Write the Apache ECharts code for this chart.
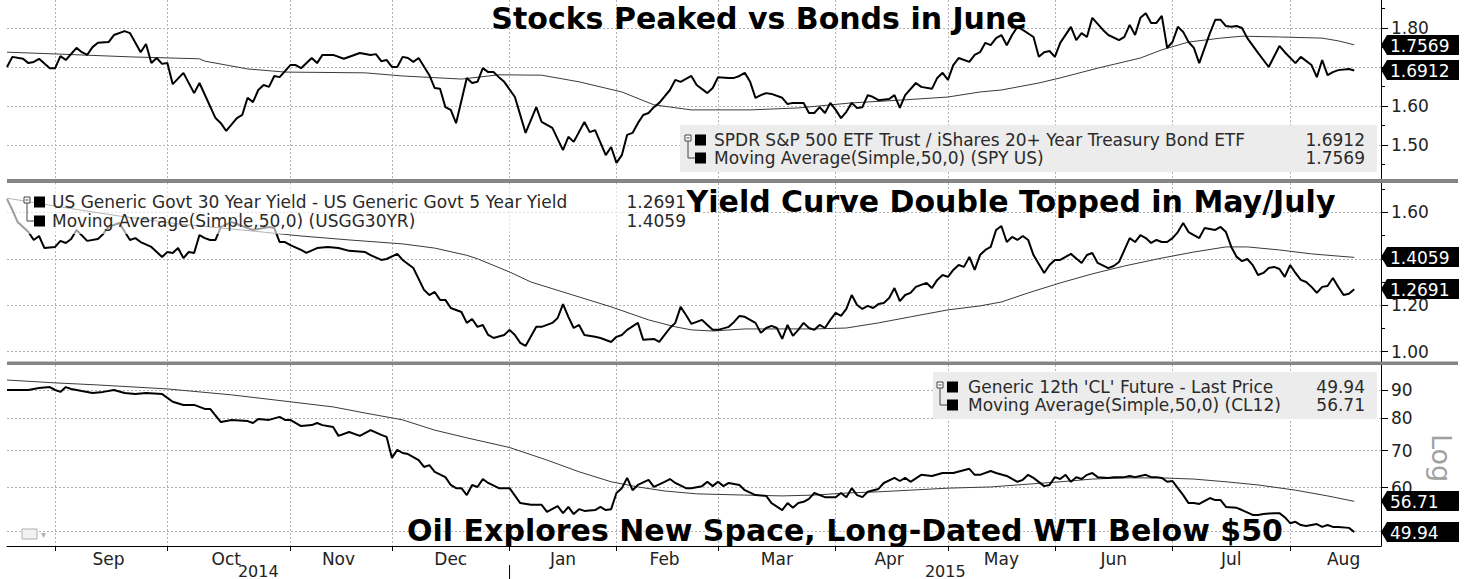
<!DOCTYPE html>
<html><head><meta charset="utf-8">
<script src="https://cdn.jsdelivr.net/npm/echarts@6/dist/echarts.min.js"></script>
<style>html,body{margin:0;padding:0;background:#fff}#c{width:1465px;height:579px}</style>
</head><body><div id="c"></div>
<script>
// ---------- calendar (trading days) ----------
const START_DATE = '2014-08-19';
const END_CALENDAR = '2015-08-31';
const HOLIDAYS = ['2014-09-01','2014-11-27','2014-12-25','2015-01-01','2015-01-19','2015-02-16','2015-04-03','2015-05-25','2015-07-03'];
const N_CATEGORIES = 258;
const MONTH_NAMES = ['Jan','Feb','Mar','Apr','May','Jun','Jul','Aug','Sep','Oct','Nov','Dec'];

// ---------- panel 1: SPY / TLT ratio (x = trading day since 2014-08-19) ----------
const ratioDays = [0,1,3,4,5,6,8,9,10,11,13,14,15,16,17,19,20,22,23,25,26,27,28,29,30,31,33,35,36,39,40,41,43,44,45,46,47,48,49,50,51,53,54,55,57,58,59,61,63,66,68,69,70,71,72,73,74,75,76,77,79,80,81,82,83,84,86,87,88,89,90,91,92,93,95,97,99,100,102,104,105,106,108,109,110,112,113,114,115,116,117,118,119,120,121,122,124,125,126,128,129,131,132,133,135,136,137,138,139,140,141,142,143,145,146,147,149,150,151,152,153,154,155,156,157,158,159,160,161,162,163,165,166,167,168,170,171,173,174,175,176,177,178,180,181,182,183,184,185,186,187,188,189,190,192,193,194,195,196,197,199,200,201,202,203,205,206,208,209,210,211,212,213,214,215,216,217,218,219,220,221,222,223,225,226,227,228,229,230,231,232,234,236,238,239,241,242,244,245,246,247,248,249,251,252];
const ratioValues = [1.700,1.726,1.721,1.710,1.713,1.721,1.697,1.697,1.728,1.718,1.749,1.738,1.731,1.751,1.762,1.764,1.782,1.792,1.787,1.738,1.759,1.710,1.723,1.708,1.710,1.656,1.685,1.633,1.659,1.569,1.556,1.536,1.569,1.577,1.621,1.610,1.641,1.654,1.649,1.677,1.674,1.705,1.705,1.697,1.723,1.710,1.731,1.731,1.721,1.736,1.731,1.733,1.715,1.718,1.700,1.700,1.726,1.723,1.713,1.723,1.679,1.646,1.644,1.597,1.590,1.556,1.672,1.659,1.662,1.697,1.687,1.687,1.674,1.662,1.623,1.531,1.597,1.559,1.544,1.487,1.521,1.508,1.559,1.533,1.538,1.474,1.495,1.454,1.474,1.526,1.531,1.556,1.577,1.582,1.597,1.608,1.641,1.667,1.662,1.677,1.654,1.633,1.646,1.674,1.672,1.672,1.677,1.685,1.662,1.621,1.628,1.633,1.631,1.621,1.605,1.608,1.608,1.582,1.582,1.597,1.582,1.608,1.590,1.569,1.585,1.608,1.595,1.597,1.628,1.623,1.615,1.618,1.628,1.595,1.628,1.659,1.649,1.644,1.672,1.685,1.667,1.705,1.723,1.713,1.731,1.738,1.762,1.756,1.774,1.782,1.756,1.782,1.803,1.795,1.777,1.726,1.738,1.741,1.726,1.762,1.803,1.769,1.787,1.777,1.826,1.795,1.782,1.769,1.777,1.808,1.782,1.826,1.838,1.813,1.813,1.831,1.749,1.764,1.803,1.790,1.764,1.749,1.710,1.787,1.821,1.821,1.805,1.803,1.805,1.800,1.774,1.736,1.700,1.754,1.738,1.710,1.726,1.705,1.674,1.718,1.679,1.687,1.692,1.695,1.6912];
const ratioMaDays = [0,10,23,36,37,45,52,67,74,85,92,100,107,115,121,128,139,148,158,167,176,182,186,193,197,204,212,216,221,227,231,238,246,249,252];
const ratioMaValues = [1.738,1.733,1.726,1.721,1.715,1.695,1.687,1.685,1.677,1.669,1.680,1.679,1.662,1.636,1.603,1.590,1.590,1.595,1.608,1.615,1.623,1.636,1.641,1.659,1.672,1.697,1.723,1.744,1.764,1.774,1.779,1.777,1.774,1.767,1.7569];
const ratioTicks = [1.5,1.6,1.7,1.8];
const ratioLabels = [1.5,1.6,1.8];
const ratioMinorTicks = [1.45,1.55,1.65,1.75,1.85];

// ---------- panel 2: 30y - 5y yield curve ----------
const curveDays = [0,1,2,4,5,6,7,9,10,11,12,13,15,17,18,19,21,23,24,25,27,29,30,31,32,33,34,35,36,37,38,39,40,42,44,46,49,50,51,52,53,55,56,58,60,62,64,67,68,70,71,73,74,76,78,79,80,81,82,83,85,86,87,88,89,90,91,93,94,95,96,97,99,100,102,103,104,105,106,107,108,110,111,113,114,115,116,118,119,121,122,123,124,125,126,127,128,130,131,132,133,135,136,137,138,140,141,142,143,144,145,146,147,148,149,150,151,152,153,154,155,156,157,158,159,160,161,162,163,164,165,166,167,168,169,170,172,173,174,175,176,177,178,179,180,181,182,183,184,185,186,187,188,189,190,191,192,194,195,196,197,198,199,201,202,203,204,206,207,208,210,211,212,213,214,215,216,217,218,219,220,221,223,224,225,226,227,228,229,230,231,232,233,234,235,236,237,238,239,240,241,242,243,244,245,246,247,248,249,250,251,252];
const curveValues = [1.657,1.610,1.558,1.515,1.481,1.498,1.446,1.451,1.477,1.468,1.485,1.524,1.477,1.485,1.507,1.537,1.554,1.481,1.489,1.472,1.451,1.408,1.429,1.425,1.446,1.403,1.429,1.425,1.502,1.489,1.481,1.481,1.537,1.558,1.541,1.524,1.537,1.532,1.472,1.472,1.459,1.438,1.425,1.446,1.451,1.446,1.434,1.429,1.416,1.395,1.399,1.421,1.395,1.360,1.266,1.244,1.257,1.223,1.223,1.188,1.171,1.124,1.141,1.107,1.115,1.072,1.059,1.072,1.094,1.072,1.038,1.025,1.107,1.107,1.124,1.145,1.205,1.150,1.102,1.115,1.072,1.064,1.059,1.042,1.064,1.072,1.094,1.124,1.051,1.055,1.042,1.072,1.102,1.124,1.193,1.158,1.120,1.137,1.115,1.094,1.094,1.107,1.128,1.154,1.150,1.124,1.081,1.102,1.111,1.102,1.055,1.115,1.068,1.094,1.124,1.102,1.094,1.115,1.102,1.137,1.167,1.154,1.184,1.244,1.201,1.184,1.197,1.188,1.205,1.210,1.231,1.274,1.218,1.244,1.253,1.279,1.296,1.274,1.309,1.330,1.322,1.352,1.373,1.365,1.408,1.352,1.416,1.438,1.451,1.524,1.541,1.472,1.494,1.481,1.498,1.481,1.416,1.339,1.373,1.395,1.395,1.408,1.421,1.382,1.416,1.425,1.382,1.360,1.369,1.386,1.489,1.472,1.502,1.489,1.468,1.481,1.472,1.472,1.489,1.515,1.554,1.515,1.489,1.532,1.528,1.524,1.537,1.515,1.451,1.408,1.390,1.399,1.373,1.330,1.339,1.360,1.365,1.356,1.322,1.373,1.339,1.309,1.300,1.279,1.253,1.279,1.283,1.317,1.279,1.244,1.249,1.2691];
const curveMaDays = [0,10,21,32,44,55,64,74,80,86,88,94,98,104,113,120,125,128,132,138,145,151,157,163,169,176,182,186,191,197,203,209,216,222,228,232,238,244,252];
const curveMaValues = [1.661,1.623,1.584,1.550,1.524,1.498,1.481,1.464,1.446,1.415,1.400,1.343,1.300,1.257,1.193,1.137,1.107,1.094,1.089,1.098,1.098,1.098,1.102,1.124,1.150,1.180,1.197,1.214,1.253,1.296,1.335,1.369,1.403,1.429,1.451,1.451,1.438,1.421,1.4059];
const curveTicks = [1.0,1.2,1.4,1.6];
const curveLabels = [1.0,1.2,1.6];
const curveMinorTicks = [1.1,1.3,1.5,1.7];

// ---------- panel 3: generic 12th CL future (log scale) ----------
const oilDays = [0,4,6,8,9,10,11,12,14,16,18,20,22,24,26,29,30,31,33,35,37,38,40,42,45,46,47,49,51,52,53,55,57,58,59,61,62,64,66,68,70,71,72,73,74,75,77,78,79,80,82,83,84,85,86,87,88,89,90,92,94,96,98,100,101,103,104,105,106,107,108,110,111,112,113,114,115,116,117,118,120,121,123,124,125,127,128,130,131,132,133,134,135,137,138,140,142,143,145,146,147,148,149,150,151,153,154,155,156,157,158,159,160,161,163,164,166,167,168,169,171,173,175,177,180,181,182,184,185,187,189,190,191,192,194,195,196,197,198,199,200,201,202,203,204,206,207,209,210,211,213,214,215,216,217,218,219,220,221,222,223,225,226,227,228,230,231,233,234,235,237,238,239,240,241,242,243,245,246,247,248,249,251,252];
const oilValues = [90.0,90.0,90.75,91.1,90.0,89.3,91.1,90.4,89.6,88.9,89.3,90.0,88.9,88.5,88.9,88.5,87.1,85.7,84.6,84.6,83.2,83.2,78.8,79.5,79.1,78.5,79.8,79.5,80.5,79.5,79.5,77.5,77.8,78.5,77.8,77.2,74.4,75.6,74.4,76.2,74.7,74.1,67.9,70.2,69.3,69.0,67.3,65.4,65.9,64.1,62.7,60.7,59.9,59.9,58.2,60.7,60.2,62.2,61.2,59.9,59.9,56.3,55.9,55.9,54.3,55.6,54.0,55.4,53.8,54.9,54.5,54.7,55.4,54.7,54.9,58.7,59.9,62.5,59.4,60.7,62.0,60.2,61.5,62.2,61.2,59.9,59.9,60.4,61.5,60.4,61.5,60.4,61.2,60.7,59.4,58.2,58.0,56.3,54.7,56.3,55.2,56.3,56.6,57.3,58.7,57.7,57.7,57.7,58.7,57.7,59.9,58.2,57.7,59.0,59.7,61.2,62.5,61.7,62.5,61.5,63.3,63.0,63.8,63.8,64.9,63.3,63.3,64.3,63.8,63.0,61.5,62.0,63.3,62.5,60.4,60.7,62.7,62.2,63.3,61.5,62.7,62.2,63.3,63.8,62.7,62.5,62.7,62.7,63.0,62.7,63.3,62.7,62.7,62.5,61.5,61.7,59.9,58.2,56.3,56.3,56.1,57.5,57.0,57.0,55.4,55.2,54.7,53.6,53.6,53.8,54.0,54.0,53.1,51.8,52.1,51.4,51.2,51.6,51.0,51.4,51.0,51.0,50.8,49.94];
const oilMaDays = [0,9,17,30,42,53,61,67,74,80,86,94,101,107,113,118,123,129,138,145,151,157,163,169,176,184,191,197,203,209,216,222,228,234,241,247,252];
const oilMaValues = [93.8,92.7,91.9,90.4,88.2,85.7,83.9,81.8,79.5,76.2,73.8,70.9,67.3,64.1,61.5,60.2,59.2,58.5,58.2,58.0,58.2,58.7,59.0,59.4,59.9,60.2,60.9,61.5,62.2,62.5,62.5,62.2,61.5,60.7,59.4,58.0,56.71];
const oilTicks = [50,60,70,80,90];
const oilLabels = [60,70,80,90];

// ---------- texts ----------
const titles = ['Stocks Peaked vs Bonds in June','Yield Curve Double Topped in May/July','Oil Explores New Space, Long-Dated WTI Below $50'];
const legend1 = ['SPDR S&P 500 ETF Trust / iShares 20+ Year Treasury Bond ETF','Moving Average(Simple,50,0) (SPY US)'];
const legend2 = ['US Generic Govt 30 Year Yield - US Generic Govt 5 Year Yield','Moving Average(Simple,50,0) (USGG30YR)'];
const legend3 = ["Generic 12th 'CL' Future - Last Price",'Moving Average(Simple,50,0) (CL12)'];
const lastValues = {ratio:1.6912, ratioMa:1.7569, curve:1.2691, curveMa:1.4059, oil:49.94, oilMa:56.71};

// ---------- build calendar ----------
const allDays = [];
(function(){
  const d = new Date(START_DATE + 'T00:00:00Z');
  while (true) {
    const s = d.toISOString().slice(0,10);
    const wd = d.getUTCDay();
    if (wd !== 0 && wd !== 6 && HOLIDAYS.indexOf(s) < 0) allDays.push(s);
    if (s === END_CALENDAR) break;
    d.setUTCDate(d.getUTCDate() + 1);
  }
})();
const categories = allDays.slice(0, N_CATEGORIES);
const monthStart = new Set(); const labelIdx = new Set();
(function(){
  let s = 0;
  for (let i = 1; i <= allDays.length; i++) {
    if (i === allDays.length || allDays[i].slice(0,7) !== allDays[i-1].slice(0,7)) {
      if (s > 0) { monthStart.add(s); labelIdx.add(Math.ceil((s + i - 1) / 2)); }
      s = i;
    }
  }
})();

const FONT = '"DejaVu Sans"';
const GRID_C = '#b3b3b3';
const pairs = (d, v) => d.map((x, i) => [x, v[i]]);

const P1 = {min: 1.80 - 151/390, max: 1.80 + 28/390};
const P2 = {min: 1.0 - 10.3/232.33, max: 1.60 + 29.3/232.33};
const P3 = {min: 90*Math.exp(-156/241.07), max: 90*Math.exp(25/241.07)};

function xAx(gi, show){
  return {type:'category', gridIndex:gi, data:categories, boundaryGap:false,
    axisLine:{show:show, lineStyle:{color:'#000', width:1}},
    axisTick:{show:show, interval:(i)=>monthStart.has(i), length:5, lineStyle:{color:'#000'}},
    axisLabel:{show:show, interval:(i)=>labelIdx.has(i), formatter:(v)=>MONTH_NAMES[+v.slice(5,7)-1], color:'#222', fontSize:17, fontFamily:FONT, margin:4},
    splitLine:{show:true, interval:(i)=>monthStart.has(i), lineStyle:{color:GRID_C, type:[2,2], width:1}}};
}
function yMajor(gi, ext, ticks, labels, fmt, type){
  return {type:type||'value', gridIndex:gi, position:'right', min:ext.min, max:ext.max, scale:true,
    axisLine:{show:true, onZero:false, lineStyle:{color:'#000', width:1}},
    axisTick:{show:true, customValues:ticks, length:7, lineStyle:{color:'#000'}},
    axisLabel:{show:true, customValues:labels, formatter:fmt, color:'#222', fontSize:17, fontFamily:FONT, margin:10},
    splitLine:{show:true, lineStyle:{color:GRID_C, type:[2,2], width:1}}};
}
function yMinor(gi, ext, ticks){
  return {type:'value', gridIndex:gi, position:'right', min:ext.min, max:ext.max, scale:true,
    axisLine:{show:false}, axisTick:{show:true, customValues:ticks, length:4, lineStyle:{color:'#000'}},
    axisLabel:{show:false}, splitLine:{show:false}};
}
function lineS(xi, yi, data, main){
  return {type:'line', xAxisIndex:xi, yAxisIndex:yi, data:data, showSymbol:false, symbol:'none',
    lineStyle:{color: main ? '#000' : '#3a3a3a', width: main ? 2 : 1}, z: main ? 4 : 3, silent:true};
}

const chart = echarts.init(document.getElementById('c'), null, {renderer:'svg', width:1465, height:579});
const option = {
  animation:false, backgroundColor:'#fff',
  grid:[
    {left:7, right:84, top:0, height:179},
    {left:7, right:84, top:183, height:179},
    {left:7, right:84, top:365, height:181}
  ],
  xAxis:[xAx(0,false), xAx(1,false), xAx(2,true)],
  yAxis:[
    yMajor(0, P1, ratioTicks, ratioLabels, (v)=>v.toFixed(2)),
    yMinor(0, P1, ratioMinorTicks),
    yMajor(1, P2, curveTicks, curveLabels, (v)=>v.toFixed(2)),
    yMinor(1, P2, curveMinorTicks),
    yMajor(2, P3, oilTicks, oilLabels, (v)=>String(Math.round(v)), 'log')
  ],
  series:[
    lineS(0,0,pairs(ratioMaDays, ratioMaValues), false),
    lineS(0,0,pairs(ratioDays, ratioValues), true),
    lineS(1,2,pairs(curveMaDays, curveMaValues), false),
    lineS(1,2,pairs(curveDays, curveValues), true),
    lineS(2,4,pairs(oilMaDays, oilMaValues), false),
    lineS(2,4,pairs(oilDays, oilValues), true)
  ]
};
chart.setOption(option);

// ---------- annotations placed through the chart's own scales ----------
const yPix = (ai, v) => chart.convertToPixel({yAxisIndex:ai}, v);
const xPix = (i) => chart.convertToPixel({xAxisIndex:2}, i);
const AXIS_X = xPix(N_CATEGORIES - 1);
const G = [];
function txt(text, x, y, o){
  o = o || {};
  const al = o.align || 'left', va = o.valign || 'middle';
  const el = {type:'text', z:o.z||60, x:x, y:y, silent:true,
    style:{text:text, font:(o.weight||'normal')+' '+(o.size||18)+'px '+(o.family||FONT), fill:o.fill||'#222',
      textAlign:al, textVerticalAlign:va, align:al, verticalAlign:va}};
  if (o.rotation) el.rotation = o.rotation;
  G.push(el);
}
function rect(x, y, w, h, fill, z, stroke){
  G.push({type:'rect', z:z||50, silent:true, shape:{x:x, y:y, width:w, height:h}, style:{fill:fill, stroke:stroke||null, lineWidth:1}});
}
function seg(x1,y1,x2,y2,c,w,z){
  G.push({type:'line', z:z||55, silent:true, shape:{x1:x1,y1:y1,x2:x2,y2:y2}, style:{stroke:c, lineWidth:w||1}});
}
function tag(ai, v, label){
  const y = Math.round(yPix(ai, v));
  const x0 = AXIS_X;
  G.push({type:'polygon', z:70, silent:true, shape:{points:[[x0,y],[x0+6,y-10],[x0+78,y-10],[x0+78,y+10],[x0+6,y+10]]}, style:{fill:'#000'}});
  txt(label, x0+9, y+1, {fill:'#fff', size:17, z:71});
}
function legendBlock(x, y1, y2, rows, vals, textX, valX, boxFill, box){
  rect(box[0], box[1], box[2], box[3], boxFill, 50);
  // tree icon
  G.push({type:'rect', z:56, silent:true, shape:{x:x, y:y1-5, width:6, height:6}, style:{fill:'#fff', stroke:'#444', lineWidth:1}});
  seg(x+1.5, y1-2, x+4.5, y1-2, '#444', 1, 57);
  seg(x+3, y1+1, x+3, y2, '#444', 1, 56);
  seg(x+3, y2, x+10, y2, '#444', 1, 56);
  rect(x+10, y1-5.5, 11, 11, '#000', 56);
  rect(x+10, y2-5.5, 11, 11, '#000', 56);
  txt(rows[0], textX, y1, {size:17, fill:'#2a2a2a'});
  txt(rows[1], textX, y2, {size:17, fill:'#2a2a2a'});
  txt(vals[0], valX, y1, {size:17, fill:'#2a2a2a', align:'right'});
  txt(vals[1], valX, y2, {size:17, fill:'#2a2a2a', align:'right'});
}

// separators between panels
rect(7, 179, 1451, 4, '#858585', 80);
rect(7, 361.5, 1451, 3.5, '#858585', 80);

// legends
legendBlock(685, 140, 158, legend1, [lastValues.ratio.toFixed(4), lastValues.ratioMa.toFixed(4)], 714, 1365, '#ececec', [680,125,697,47]);
legendBlock(24, 202, 221, legend2, [lastValues.curve.toFixed(4), lastValues.curveMa.toFixed(4)], 52, 686, 'rgba(255,255,255,0.62)', [0,184,702,50]);
legendBlock(937, 387, 405, legend3, [lastValues.oil.toFixed(2), lastValues.oilMa.toFixed(2)], 968, 1365, '#ececec', [933,372,444,47]);

// last value tags on the right axis
tag(0, lastValues.ratioMa, lastValues.ratioMa.toFixed(4));
tag(0, lastValues.ratio, lastValues.ratio.toFixed(4));
tag(2, lastValues.curveMa, lastValues.curveMa.toFixed(4));
tag(2, lastValues.curve, lastValues.curve.toFixed(4));
tag(4, lastValues.oilMa, lastValues.oilMa.toFixed(2));
tag(4, lastValues.oil, lastValues.oil.toFixed(2));

// titles
txt(titles[0], 759, 18, {size:30, weight:'bold', fill:'#000', align:'center', z:65});
txt(titles[1], 1011, 201, {size:30, weight:'bold', fill:'#000', align:'center', z:65});
txt(titles[2], 845, 530, {size:30, weight:'bold', fill:'#000', align:'center', z:65});

// log marker
txt('Log', 1441, 458, {size:27, fill:'#a0a0a0', align:'center', rotation:-Math.PI/2});

// years
const jan = categories.indexOf('2015-01-02');
txt('2014', xPix(jan/2), 571, {size:16, align:'center'});
txt('2015', (xPix(jan) + xPix(N_CATEGORIES-1))/2, 571, {size:16, align:'center'});
seg(xPix(jan), 565, xPix(jan), 579, '#000', 1, 60);

// small chart icon lower-left
rect(22, 529, 15, 10, '#f2f2f2', 60, '#b0b0b0');
txt('\u25BE', 41, 534, {size:10, fill:'#b0b0b0'});

chart.setOption({graphic:{elements:G}});
</script>
</body></html>
